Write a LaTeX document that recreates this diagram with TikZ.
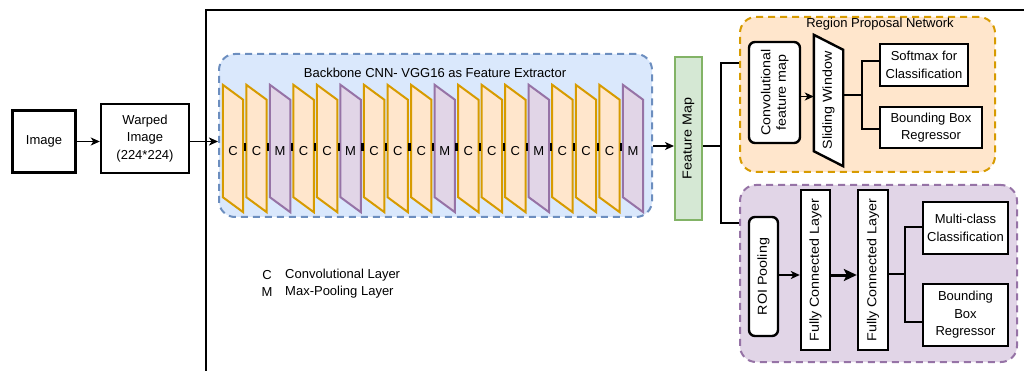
\documentclass[tikz,border=0pt]{standalone}
\usepackage{fontspec}
\setmainfont{Liberation Sans}
\usetikzlibrary{arrows.meta,calc}
\definecolor{bbfill}{HTML}{DAE8FC}
\definecolor{bbline}{HTML}{6C8EBF}
\definecolor{orfill}{HTML}{FFE6CC}
\definecolor{orline}{HTML}{D79B00}
\definecolor{pufill}{HTML}{E1D5E7}
\definecolor{puline}{HTML}{9673A6}
\definecolor{grfill}{HTML}{D5E8D4}
\definecolor{grline}{HTML}{82B366}
\tikzset{
  box/.style={draw=black, line width=2.4pt, fill=white, inner sep=0pt, align=center},
  rbox/.style={box, rounded corners=6pt},
  group/.style={line width=2pt, dashed, dash pattern=on 7pt off 5pt, rounded corners=16pt, inner sep=0pt},
  layer/.style={inner sep=0pt, minimum width=20pt, minimum height=127pt},
  cv/.style={draw=orline, fill=orfill, line width=2pt, line join=miter},
  mp/.style={draw=puline, fill=pufill, line width=2pt, line join=miter},
  tick/.style={line width=2.2pt, black},
  conn/.style={line width=1.8pt, black},
  arr/.style={line width=1.6pt, black, -{Stealth[length=9pt,width=8pt,inset=2.5pt]}},
  arrbig/.style={line width=3pt, black, -{Stealth[length=13pt,width=12pt,inset=3pt]}},
  vtext/.style={rotate=90, inner sep=0pt, align=center},
}
\newcommand{\vs}[1]{\scalebox{1.1}[1]{#1}}
\begin{document}
\begin{tikzpicture}[x=1pt,y=-1pt,font=\fontsize{13}{17.5}\selectfont]
\useasboundingbox (0,0) rectangle (1024,371);
% outer frame
\draw[line width=2pt] (205.5,372) -- (205.5,10) -- (1025,10);

% input boxes
\node[box, minimum width=63pt, minimum height=62pt] (img) at (44,141.5) {Image};
\node[box, minimum width=88pt, minimum height=69pt] (warp) at (145,138.5) {Warped\\Image\\(224*224)};

% backbone group
\node[group, draw=bbline, fill=bbfill, minimum width=433pt, minimum height=163pt] (bb) at (435.5,135.5) {};
\node[inner sep=0pt] (bbt) at (435,73) {Backbone CNN- VGG16 as Feature Extractor};

\draw[arr] (img.east) -- (img.east -| warp.west);
\draw[arr] (img.east -| warp.east) -- (img.east -| bb.west);

% layers
\foreach \i/\t/\k in {0/C/cv,1/C/cv,2/M/mp,3/C/cv,4/C/cv,5/M/mp,6/C/cv,7/C/cv,8/C/cv,9/M/mp,10/C/cv,11/C/cv,12/C/cv,13/M/mp,14/C/cv,15/C/cv,16/C/cv,17/M/mp}{
  \node[layer] (L\i) at ({233+23.53*\i},148.5) {};
  \draw[\k] (L\i.north west) -- ([yshift=-15pt]L\i.north east) -- (L\i.south east) -- ([yshift=15pt]L\i.south west) -- cycle;
  \node[inner sep=0pt] (Lt\i) at ([yshift=-3pt]L\i.center) {\t};
}
\foreach \i in {0,...,16}{
  \pgfmathtruncatemacro{\j}{\i+1}
  \draw[tick] ($(L\i.east)!0.5!(L\j.west)$) +(0,-5) -- +(0,3);
}

% feature map
\node[draw=grline, fill=grfill, line width=2pt, inner sep=0pt, minimum width=27pt, minimum height=163pt] (fmap) at (688.5,138.5) {};
\node[vtext] (fmapt) at (fmap.center) {\vs{Feature Map}};
\coordinate (sp) at (721,146);
\draw[arr] (sp -| bb.east) -- (sp -| fmap.west);
\draw[conn] (sp -| fmap.east) -- (sp);

% RPN group
\node[group, draw=orline, fill=orfill, minimum width=255pt, minimum height=155pt] (rpn) at (867.5,94.5) {};
\node[inner sep=0pt] (rpnt) at (880,24.5) {Region Proposal Network};
% Fast R-CNN head group
\node[group, draw=puline, fill=pufill, minimum width=277pt, minimum height=177pt] (frc) at (878.5,273.5) {};

\draw[conn] ([yshift=31.5pt]rpn.west) -| (sp) |- ([yshift=50.5pt]frc.west);

% RPN content
\node[rbox, minimum width=51pt, minimum height=101pt] (cfm) at (774.5,92.5) {};
\node[vtext] (cfmt) at (cfm.center) {\vs{\begin{tabular}{@{}c@{}}Convolutional\\[-2pt]feature map\end{tabular}}};
\node[inner sep=0pt, minimum width=29pt, minimum height=131pt] (sw) at (828.5,100.5) {};
\draw[line width=2.4pt, fill=white, line join=miter] (sw.north west) -- ([yshift=-15pt]sw.north east) -- (sw.south east) -- ([yshift=15pt]sw.south west) -- cycle;
\node[vtext] (swt) at (sw.center) {\vs{Sliding Window}};
\draw[arr] ([yshift=-4pt]cfm.east) -- ([yshift=-4pt]cfm.east -| sw.west);

\node[box, minimum width=88pt, minimum height=42pt] (soft) at (924,65) {Softmax for\\Classification};
\node[box, minimum width=102pt, minimum height=41pt] (bbr1) at (931,127.5) {Bounding Box\\Regressor};
\coordinate (sp2) at (862,95);
\draw[conn] (sp2 -| sw.east) -- (sp2);
\draw[conn] ([yshift=4pt]soft.west) -| (sp2) |- ([yshift=-1.5pt]bbr1.west);

% Fast R-CNN content
\node[rbox, minimum width=29pt, minimum height=119pt] (roi) at (763.5,276.5) {};
\node[vtext] (roit) at (roi.center) {\vs{ROI Pooling}};
\node[box, minimum width=29pt, minimum height=160pt] (fc1) at (815.5,270) {};
\node[vtext] (fc1t) at (fc1.center) {\vs{Fully Connected Layer}};
\node[box, minimum width=30pt, minimum height=160pt] (fc2) at (873,270) {};
\node[vtext] (fc2t) at (fc2.center) {\vs{Fully Connected Layer}};
\draw[arr] ([yshift=1.5pt]roi.east) -- ([yshift=1.5pt]roi.east -| fc1.west);
\draw[arrbig] ([yshift=-5pt]fc1.east) -- ([yshift=-5pt]fc1.east -| fc2.west);

\node[box, minimum width=85pt, minimum height=52pt] (mc) at (965.5,228) {Multi-class\\Classification};
\node[box, minimum width=85pt, minimum height=62pt] (bbr2) at (965.5,315) {Bounding\\Box\\Regressor};
\coordinate (sp3) at (905,274);
\draw[conn] (sp3 -| fc2.east) -- (sp3);
\draw[conn] ([yshift=1pt]mc.west) -| (sp3) |- ([yshift=-7pt]bbr2.west);

% legend
\node[inner sep=0pt] (lgc) at (267,275) {C};
\node[inner sep=0pt, anchor=west] (lgct) at (285,275) {Convolutional Layer};
\node[inner sep=0pt] (lgm) at (267,292) {M};
\node[inner sep=0pt, anchor=west] (lgmt) at (285,292) {Max-Pooling Layer};
\end{tikzpicture}
\end{document}
